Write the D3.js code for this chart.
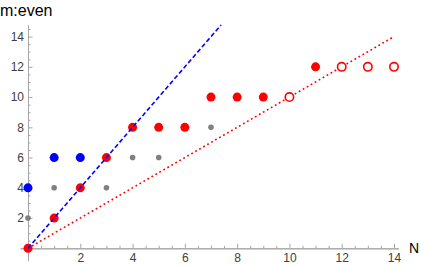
<!DOCTYPE html>
<html><head><meta charset="utf-8">
<script src="https://cdn.jsdelivr.net/npm/d3@7/dist/d3.min.js"></script>
<style>
body{margin:0;background:#fff;}
svg{display:block;font-family:"Liberation Sans",Arial,sans-serif;}
</style></head>
<body>
<svg id="c" width="421" height="266"></svg>
<script>
// Data
const grayPoints = [[0,2],[1,4],[2,4],[3,4],[4,6],[5,6],[7,8]];
const bluePoints = [[0,4],[1,6],[2,6]];
const redFilled = [[0,0],[1,2],[2,4],[3,6],[4,8],[5,8],[6,8],[7,10],[8,10],[9,10],[11,12]];
const redOpen = [[10,10],[12,12],[13,12],[14,12]];
const blueLine = [[0,0],[7.385,14.77]];   // m = 2N
const redLine = [[0,0],[14,14]];          // m = N
const xTicks = [2,4,6,8,10,12,14];
const yTicks = [2,4,6,8,10,12,14];
const xRange = [-0.3, 14.17];
const yRange = [-0.8, 14.77];

const svg = d3.select("#c");
const x = d3.scaleLinear().domain([0,14]).range([28,394]);
const y = d3.scaleLinear().domain([0,14]).range([248.3,36.6]);

const xa = x.copy().domain(xRange).range(xRange.map(x));
const ya = y.copy().domain(yRange).range(yRange.map(y));

const xMinor = d3.range(0.5,14.01,0.5).filter(v=>!xTicks.includes(v));
const yMinor = d3.range(0.5,14.51,0.5).filter(v=>!yTicks.includes(v));

const axisCol = "#a6a6a6", textCol = "#404040";

function style(g){
  g.selectAll("path,line").attr("stroke",axisCol).attr("stroke-width",1);
  g.selectAll("text").attr("fill",textCol).style("font-size","12px").style("font-family","'Liberation Sans',Arial,sans-serif");
}

// minor ticks
svg.append("g").attr("transform",`translate(0,${y(0)})`)
  .call(d3.axisBottom(xa).tickValues(xMinor).tickSizeInner(-2.5).tickSizeOuter(0).tickFormat(""))
  .call(style);
svg.append("g").attr("transform",`translate(${x(0)},0)`)
  .call(d3.axisLeft(ya).tickValues(yMinor).tickSizeInner(-2.5).tickSizeOuter(0).tickFormat(""))
  .call(style);
// major ticks
svg.append("g").attr("transform",`translate(0,${y(0)})`)
  .call(d3.axisBottom(xa).tickValues(xTicks).tickSizeInner(-4.5).tickSizeOuter(0).tickPadding(5).tickFormat(d3.format("d")))
  .call(style);
svg.append("g").attr("transform",`translate(${x(0)},0)`)
  .call(d3.axisLeft(ya).tickValues(yTicks).tickSizeInner(-4.5).tickSizeOuter(0).tickPadding(4).tickFormat(d3.format("d")))
  .call(style);
svg.selectAll(".domain").attr("stroke",axisCol);

// axis labels
svg.append("text").attr("x",0).attr("y",16).text("m:even")
  .attr("fill","#000").style("font-size","16px");
svg.append("text").attr("x",409).attr("y",253).text("N")
  .attr("fill","#000").style("font-size","14px");

// points
svg.append("g").selectAll("circle").data(grayPoints).join("circle")
  .attr("cx",d=>x(d[0])).attr("cy",d=>y(d[1])).attr("r",2.8).attr("fill","#808080");
svg.append("g").selectAll("circle").data(bluePoints).join("circle")
  .attr("cx",d=>x(d[0])).attr("cy",d=>y(d[1])).attr("r",4.5).attr("fill","#0000ff");
svg.append("g").selectAll("circle").data(redFilled).join("circle")
  .attr("cx",d=>x(d[0])).attr("cy",d=>y(d[1])).attr("r",4.5).attr("fill","#ff0000");

const line = d3.line().x(d=>x(d[0])).y(d=>y(d[1]));
svg.append("path").attr("d",line(redLine)).attr("fill","none")
  .attr("stroke","#ff0000").attr("stroke-width",1.6).attr("stroke-dasharray","1.8,2.8");
svg.append("path").attr("d",line(blueLine)).attr("fill","none")
  .attr("stroke","#0000ff").attr("stroke-width",1.6).attr("stroke-dasharray","4.5,2.5");

svg.append("g").selectAll("circle").data(redOpen).join("circle")
  .attr("cx",d=>x(d[0])).attr("cy",d=>y(d[1])).attr("r",4.2)
  .attr("fill","#fff").attr("stroke","#ff0000").attr("stroke-width",1.6);
</script>
</body></html>
